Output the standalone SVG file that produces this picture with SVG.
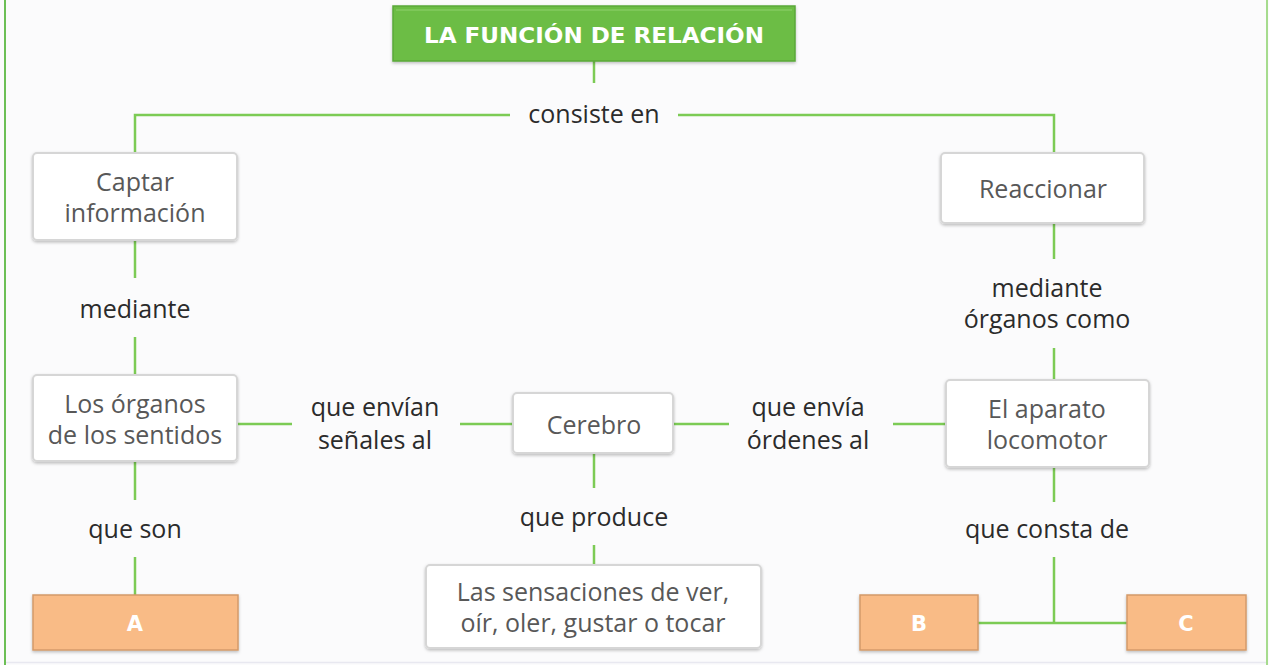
<svg xmlns="http://www.w3.org/2000/svg" width="1269" height="665" viewBox="0 0 1269 665">
<defs>
<filter id="sh" x="-10%" y="-10%" width="120%" height="130%">
<feDropShadow dx="0" dy="1.5" stdDeviation="1.5" flood-color="#000" flood-opacity="0.25"/>
</filter>
<style>
.box{fill:#fff;stroke:#d6d6d6;stroke-width:2;filter:url(#sh)}
.org{fill:#f9bb86;stroke:#d49a6a;stroke-width:1.5;filter:url(#sh)}
.bt{font-family:"Open Sans","Noto Sans",sans-serif;font-size:25px;fill:#585858;text-anchor:middle}
.lt{font-family:"Open Sans","Noto Sans",sans-serif;font-size:25px;fill:#2b2b2b;text-anchor:middle}
.ot{font-family:"DejaVu Sans","Open Sans",sans-serif;font-weight:bold;font-size:21px;fill:#fff;text-anchor:middle}
.c{stroke:#7ccb55;stroke-width:2.5;fill:none}
</style>
</defs>
<rect x="0" y="0" width="1269" height="665" fill="#fbfbfc"/>
<line x1="5" y1="0" x2="5" y2="665" stroke="#6cbf55" stroke-width="2"/>
<line x1="1267" y1="0" x2="1267" y2="665" stroke="#8ad06a" stroke-width="1.5"/>
<line x1="6" y1="662.5" x2="1266" y2="662.5" stroke="#e8e8f0" stroke-width="1.5"/>
<g id="connectors">
<path class="c" d="M594 61 V83"/>
<path class="c" d="M135 153 V115 H510"/>
<path class="c" d="M678 115 H1054 V153"/>
<path class="c" d="M135 240 V278"/>
<path class="c" d="M135 337 V375"/>
<path class="c" d="M135 461 V500"/>
<path class="c" d="M135 557 V595"/>
<path class="c" d="M237 424 H292"/>
<path class="c" d="M460 424 H513"/>
<path class="c" d="M673 424 H729"/>
<path class="c" d="M893 424 H946"/>
<path class="c" d="M594 453 V488"/>
<path class="c" d="M594 545 V565"/>
<path class="c" d="M1054 223 V259"/>
<path class="c" d="M1054 348 V380"/>
<path class="c" d="M1054 467 V502"/>
<path class="c" d="M1054 557 V623"/>
<path class="c" d="M978 623 H1127"/>
<text class="lt" x="594" y="123">consiste en</text>
<text class="lt" x="135" y="318">mediante</text>
<text class="lt" x="135" y="538">que son</text>
<text class="lt" x="375" y="416">que envían</text>
<text class="lt" x="375" y="449">señales al</text>
<text class="lt" x="808" y="416">que envía</text>
<text class="lt" x="808" y="449">órdenes al</text>
<text class="lt" x="594" y="526">que produce</text>
<text class="lt" x="1047" y="297">mediante</text>
<text class="lt" x="1047" y="328">órganos como</text>
<text class="lt" x="1047" y="538">que consta de</text>
</g>
<g id="title">
<rect x="393" y="6" width="402" height="55" fill="#6cbd45" stroke="#5aa838" stroke-width="1.5" filter="url(#sh)"/>
<line x1="396" y1="10" x2="792" y2="10" stroke="#8fd26e" stroke-width="1"/>
<text class="ot" x="594" y="43" font-size="22" textLength="340" lengthAdjust="spacingAndGlyphs">LA FUNCIÓN DE RELACIÓN</text>
</g>
<g id="captar">
<rect class="box" x="33" y="153" width="204" height="87" rx="4"/>
<text class="bt" x="135" y="191">Captar</text>
<text class="bt" x="135" y="222">información</text>
</g>
<g id="reaccionar">
<rect class="box" x="941" y="153" width="203" height="70" rx="4"/>
<text class="bt" x="1043" y="198">Reaccionar</text>
</g>
<g id="organos">
<rect class="box" x="33" y="375" width="204" height="86" rx="4"/>
<text class="bt" x="135" y="413">Los órganos</text>
<text class="bt" x="135" y="444">de los sentidos</text>
</g>
<g id="cerebro">
<rect class="box" x="513" y="393" width="160" height="60" rx="4"/>
<text class="bt" x="594" y="434">Cerebro</text>
</g>
<g id="locomotor">
<rect class="box" x="946" y="380" width="203" height="87" rx="4"/>
<text class="bt" x="1047" y="418">El aparato</text>
<text class="bt" x="1047" y="449">locomotor</text>
</g>
<g id="sensaciones">
<rect class="box" x="426" y="565" width="335" height="83" rx="4"/>
<text class="bt" x="593" y="601">Las sensaciones de ver,</text>
<text class="bt" x="593" y="632">oír, oler, gustar o tocar</text>
</g>
<g id="A">
<rect class="org" x="33" y="595" width="205" height="55"/>
<text class="ot" x="135" y="631">A</text>
</g>
<g id="B">
<rect class="org" x="860" y="595" width="118" height="55"/>
<text class="ot" x="919" y="631">B</text>
</g>
<g id="C">
<rect class="org" x="1127" y="595" width="119" height="55"/>
<text class="ot" x="1186" y="631">C</text>
</g>
</svg>
